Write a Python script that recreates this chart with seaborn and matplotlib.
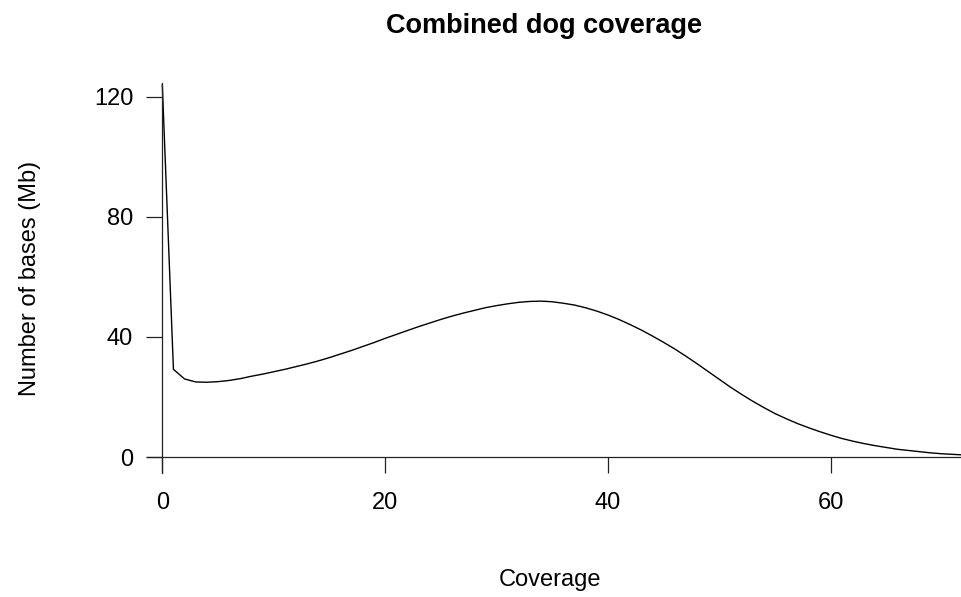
import numpy as np
import pandas as pd
import matplotlib
matplotlib.use("Agg")
import matplotlib.pyplot as plt
import seaborn as sns

# Coverage depth (x) and number of bases in Mb (y)
coverage = list(range(0, 73))
bases_mb = [124.0, 29.2, 26.0, 25.0, 24.9, 25.1, 25.5, 26.1, 26.9, 27.6,
            28.4, 29.2, 30.1, 31.0, 32.0, 33.1, 34.3, 35.5, 36.8, 38.1,
            39.5, 40.8, 42.1, 43.4, 44.6, 45.8, 46.9, 47.9, 48.8, 49.7,
            50.4, 51.0, 51.5, 51.8, 51.9, 51.7, 51.2, 50.6, 49.7, 48.6,
            47.3, 45.8, 44.1, 42.3, 40.3, 38.2, 36.0, 33.6, 31.1, 28.5,
            25.9, 23.3, 20.9, 18.6, 16.5, 14.5, 12.8, 11.2, 9.8, 8.5,
            7.3, 6.2, 5.3, 4.5, 3.8, 3.2, 2.6, 2.2, 1.8, 1.4,
            1.1, 0.9, 0.7]

x_ticks = [0, 20, 40, 60]
y_ticks = [0, 40, 80, 120]

df = pd.DataFrame({"coverage": coverage, "bases": bases_mb})

sns.set_style("ticks")
plt.rcParams["font.family"] = ["Liberation Sans", "DejaVu Sans"]
plt.rcParams["text.color"] = "black"
plt.rcParams["axes.labelcolor"] = "black"
plt.rcParams["xtick.color"] = "black"
plt.rcParams["ytick.color"] = "black"

fig = plt.figure(figsize=(9.62, 5.97), dpi=100)
ax = fig.add_axes([0.1525, 0.2077, 0.8475, 0.6533])

sns.lineplot(data=df, x="coverage", y="bases", color="black", linewidth=1.0, ax=ax)

ax.set_xlim(-1.4, 71.8)
ax.set_ylim(-5.3, 124.5)

# axes drawn through the origin, like R's axis(pos=0)
for side in ["top", "right"]:
    ax.spines[side].set_visible(False)
ax.spines["left"].set_position(("data", 0))
ax.spines["bottom"].set_position(("data", 0))
for side in ["left", "bottom"]:
    ax.spines[side].set_color("#222222")
    ax.spines[side].set_linewidth(0.9)

ax.set_xticks(x_ticks)
ax.set_yticks(y_ticks)
ax.tick_params(axis="both", direction="out", length=11.5, width=0.9,
               color="#222222", labelcolor="black", labelsize=17)
ax.tick_params(axis="x", pad=14)
ax.tick_params(axis="y", pad=9.5)

ax.set_xlabel("Coverage", fontsize=17, color="black")
ax.set_ylabel("Number of bases (Mb)", fontsize=17, color="black")
ax.xaxis.set_label_coords(0.495, -0.246)
ax.yaxis.set_label_coords(-0.130, 0.5)

ax.set_title("Combined dog coverage", fontsize=19.5, fontweight="bold",
             color="black", x=0.487, y=1.128, pad=0)

fig.savefig("out.png", dpi=100)
